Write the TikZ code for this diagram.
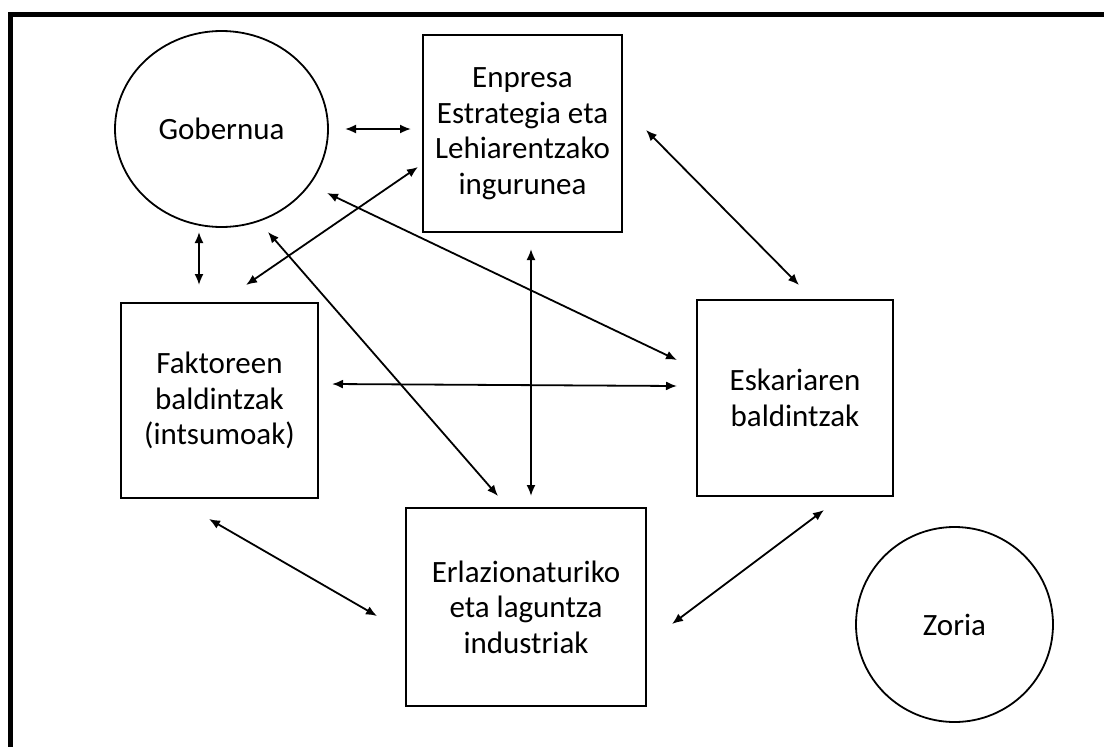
\documentclass[tikz,border=0pt]{standalone}
\usepackage{fontspec}
\setmainfont{Carlito}
\usetikzlibrary{arrows.meta,shapes.geometric}
\tikzset{
  box/.style={draw, line width=2pt, inner sep=0pt, align=center, font=\fontsize{31}{35.5}\selectfont},
  oval/.style={draw, ellipse, line width=1.8pt, inner sep=0pt, align=center, font=\fontsize{31}{35.5}\selectfont},
  link/.style={line width=1.8pt, {Latex[length=11pt,width=9pt]}-{Latex[length=11pt,width=9pt]}},
  frame/.style={line width=5pt}
}
\begin{document}
\begin{tikzpicture}[x=1pt,y=-1pt]
\useasboundingbox (0,0) rectangle (1104,747);
\coordinate (fa) at (10.5,747);
\coordinate (fb) at (10.5,14);
\coordinate (fc) at (1104,14);
\draw[frame] (fa) -- (fb) -- (fc);

\node[oval, minimum width=213pt, minimum height=196pt] (gob) at (221.5,129) {Gobernua};
\node[box, minimum width=199pt, minimum height=197pt] (enp) at (522.5,133.5) {Enpresa\\Estrategia eta\\Lehiarentzako\\ingurunea};
\node[box, minimum width=197pt, minimum height=195pt] (fak) at (219.5,400.5) {Faktoreen\\baldintzak\\(intsumoak)};
\node[box, minimum width=196pt, minimum height=196pt] (esk) at (795,398) {Eskariaren\\baldintzak};
\node[box, minimum width=240pt, minimum height=198pt] (erl) at (526,607) {Erlazionaturiko\\eta laguntza\\industriak};
\node[oval, minimum width=197pt, minimum height=195pt] (zor) at (954.5,624.5) {Zoria};

% arrow end points
\coordinate (a1s) at (345,129);  \coordinate (a1e) at (411,129);
\coordinate (a2s) at (199,232);  \coordinate (a2e) at (199,285);
\coordinate (a3s) at (246,285);  \coordinate (a3e) at (418,167);
\coordinate (a4s) at (327,193);  \coordinate (a4e) at (677,360);
\coordinate (a5s) at (268,232);  \coordinate (a5e) at (498,496);
\coordinate (a6s) at (531,249);  \coordinate (a6e) at (531,496);
\coordinate (a7s) at (332,384);  \coordinate (a7e) at (677,386);
\coordinate (a8s) at (646,130);  \coordinate (a8e) at (799,285);
\coordinate (a9s) at (209,519);  \coordinate (a9e) at (377,616);
\coordinate (a10s) at (672,624); \coordinate (a10e) at (824,510);

\draw[link] (a1s) -- (a1e);
\draw[link] (a2s) -- (a2e);
\draw[link] (a3s) -- (a3e);
\draw[link] (a4s) -- (a4e);
\draw[link] (a5s) -- (a5e);
\draw[link] (a6s) -- (a6e);
\draw[link] (a7s) -- (a7e);
\draw[link] (a8s) -- (a8e);
\draw[link] (a9s) -- (a9e);
\draw[link] (a10s) -- (a10e);
\end{tikzpicture}
\end{document}
